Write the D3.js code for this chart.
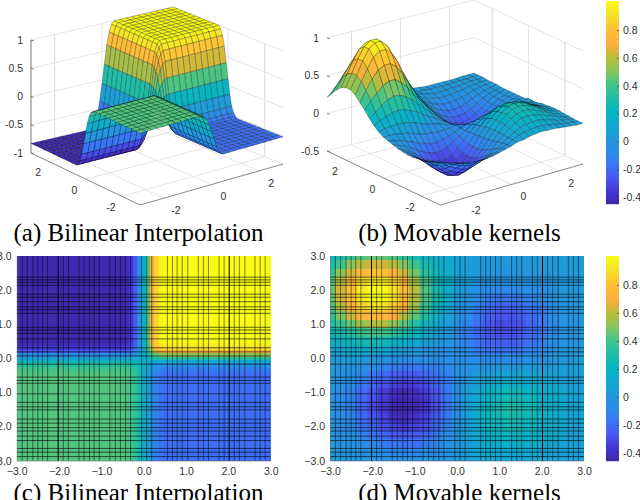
<!DOCTYPE html>
<html>
<head>
<meta charset="utf-8">
<script src="https://d3js.org/d3.v7.min.js"></script>
<style>
body { margin: 0; background: #fff; }
svg { display: block; }
text { font-family: "Liberation Sans", sans-serif; }
.caption { font-family: "Liberation Serif", serif; font-size: 25px; fill: #000; }
</style>
</head>
<body>
<div id="viz"></div>
<script>
// parula colour stops
var parulaStops = [0, .06, .125, .19, .25, .31, .38, .45, .52, .59, .66, .72, .79, .86, .93, 1];
var parulaColors = ["#3e26a8", "#4435d0", "#4a55f0", "#3a74f5", "#2a8de8", "#2496dc", "#12a8d0", "#08b4c2",
                    "#20bda6", "#45c488", "#8ac45a", "#bcbc3a", "#fcb03c", "#fcc035", "#f5e027", "#f9fb15"];

// axis tick values
var axisTicks3d = [-2, 0, 2];
var wallGrid = [-2, 2];
var zTicksA = [-1, -.5, 0, .5, 1];
var zTicksB = [-.5, 0, .5, 1];
var heatTicks = [-3, -2, -1, 0, 1, 2, 3];
var barTicks = [-.4, -.2, 0, .2, .4, .6, .8];

// positions of the black mesh lines that show in the two flat maps
var lineX = [-2.87, -2.75, -2.62, -2.5, -2.39, -2.27, -1.9, -1.78, -1.53, -1.41, -1.28, -1.17, -1.05, -.8, -.67, -.55, -.43, -.31,
             -.05, .07, .19, .56, .68, .79, .91, 1.04, 1.29, 1.41, 1.53, 1.78, 1.9, 2.14, 2.26, 2.39, 2.63, 2.75, 2.87];
var lineXBold = [-2.02, 2.02];
var lineY = [2.38, 2.3, 2.23, 2.14, 1.88, 1.79, 1.66, 1.51, 1.43, 1.32, .91, .83, .73, .57, .31, .19, .07, -.17, -.55, -.65, -.73,
             -1.04, -1.29, -1.42, -1.51, -1.78, -1.9, -2.03, -2.13, -2.28, -2.41, -2.64, -2.75, -2.88];

// bilinear surface: grid nodes (dense across the step) and height rows
var bilinearNodes = [-3, -2.75, -2.5, -2.25, -2, -1.75, -1.5, -1.25, -1, -.75, -.5, -.4, -.3, -.2, -.1, 0, .1, .2, .3, .4,
                     .5, .75, 1, 1.25, 1.5, 1.75, 2, 2.25, 2.5, 2.75, 3];
var rowTop = [-.83, -.83, -.83, -.83, -.83, -.83, -.83, -.83, -.83, -.83, -.83, -.79, -.74, -.61, -.37, -.06, .27, .6, .82, .95, 1, 1, 1, 1, 1, 1, 1, 1, 1, 1, 1];
var rowS1 = [-.8, -.8, -.8, -.8, -.8, -.8, -.8, -.8, -.8, -.8, -.8, -.77, -.71, -.59, -.36, -.07, .25, .57, .78, .9, .95, .95, .95, .95, .95, .95, .95, .95, .95, .95, .95];
var rowS2 = [-.72, -.72, -.72, -.72, -.72, -.72, -.72, -.72, -.72, -.72, -.72, -.69, -.64, -.53, -.33, -.06, .22, .5, .69, .8, .85, .85, .85, .85, .85, .85, .85, .85, .85, .85, .85];
var rowS3 = [-.59, -.59, -.59, -.59, -.59, -.59, -.59, -.59, -.59, -.59, -.59, -.56, -.53, -.44, -.28, -.06, .17, .39, .54, .63, .67, .67, .67, .67, .67, .67, .67, .67, .67, .67, .67];
var rowS4 = [-.39, -.39, -.39, -.39, -.39, -.39, -.39, -.39, -.39, -.39, -.39, -.37, -.35, -.3, -.2, -.06, .08, .22, .31, .37, .39, .39, .39, .39, .39, .39, .39, .39, .39, .39, .39];
var rowS5 = [-.19, -.19, -.19, -.19, -.19, -.19, -.19, -.19, -.19, -.19, -.19, -.18, -.17, -.15, -.11, -.06, 0, .05, .09, .11, .12, .12, .12, .12, .12, .12, .12, .12, .12, .12, .12];
var rowS6 = [0, 0, 0, 0, 0, 0, 0, 0, 0, 0, 0, 0, -.01, -.02, -.04, -.06, -.08, -.11, -.13, -.14, -.14, -.14, -.14, -.14, -.14, -.14, -.14, -.14, -.14, -.14, -.14];
var rowS7 = [.14, .14, .14, .14, .14, .14, .14, .14, .14, .14, .14, .13, .12, .08, .02, -.06, -.15, -.23, -.29, -.33, -.34, -.34, -.34, -.34, -.34, -.34, -.34, -.34, -.34, -.34, -.34];
var rowS8 = [.22, .22, .22, .22, .22, .22, .22, .22, .22, .22, .22, .21, .19, .14, .06, -.06, -.18, -.29, -.37, -.42, -.44, -.44, -.44, -.44, -.44, -.44, -.44, -.44, -.44, -.44, -.44];
var rowS9 = [.25, .25, .25, .25, .25, .25, .25, .25, .25, .25, .25, .24, .21, .16, .07, -.06, -.19, -.33, -.42, -.47, -.49, -.49, -.49, -.49, -.49, -.49, -.49, -.49, -.49, -.49, -.49];
var rowLow = [.27, .27, .27, .27, .27, .27, .27, .27, .27, .27, .27, .25, .23, .18, .07, -.06, -.2, -.35, -.44, -.5, -.52, -.52, -.52, -.52, -.52, -.52, -.52, -.52, -.52, -.52, -.52];
var bilinearRows = [rowTop, rowTop, rowTop, rowTop, rowTop, rowTop, rowTop, rowTop, rowTop, rowTop, rowTop,
                    rowS1, rowS2, rowS3, rowS4, rowS5, rowS6, rowS7, rowS8, rowS9,
                    rowLow, rowLow, rowLow, rowLow, rowLow, rowLow, rowLow, rowLow, rowLow, rowLow, rowLow];

// movable kernels surface: nodes every 0.25, heights in hundredths, y from 3 down to -3
var kernelNodes = [-3, -2.75, -2.5, -2.25, -2, -1.75, -1.5, -1.25, -1, -.75, -.5, -.25, 0, .25, .5, .75, 1, 1.25, 1.5, 1.75, 2, 2.25, 2.5, 2.75, 3];
var kernelRows = [
  [21, 29, 37, 43, 46, 46, 42, 35, 28, 20, 14, 9, 6, 5, 4, 3, 2, 2, 2, 2, 2, 2, 3, 3, 3],
  [29, 40, 51, 59, 63, 63, 58, 49, 38, 27, 19, 12, 7, 4, 2, 2, 1, 1, 1, 1, 2, 2, 2, 3, 3],
  [37, 51, 64, 75, 80, 80, 73, 62, 47, 34, 22, 14, 7, 4, 2, 0, -2, -2, -1, 0, 0, 1, 2, 2, 3],
  [43, 59, 75, 88, 94, 94, 86, 72, 55, 40, 26, 15, 7, 3, -1, -3, -5, -5, -4, -3, -2, 0, 1, 2, 2],
  [46, 63, 80, 94, 100, 100, 92, 77, 59, 42, 27, 15, 6, 0, -5, -8, -10, -10, -9, -7, -5, -2, 0, 1, 2],
  [46, 63, 80, 94, 100, 100, 92, 77, 58, 42, 27, 14, 4, -3, -9, -13, -16, -16, -15, -12, -8, -5, -2, 0, 2],
  [42, 58, 73, 86, 92, 92, 84, 71, 53, 37, 23, 11, 1, -7, -14, -19, -22, -22, -20, -17, -12, -7, -3, -1, 1],
  [35, 49, 62, 72, 76, 76, 70, 58, 44, 30, 18, 7, -2, -10, -17, -23, -27, -28, -25, -21, -15, -9, -4, -1, 1],
  [28, 38, 46, 54, 58, 58, 52, 44, 32, 23, 13, 4, -5, -13, -20, -26, -30, -30, -28, -23, -16, -10, -5, -2, 1],
  [20, 26, 33, 38, 41, 40, 36, 30, 22, 14, 7, 0, -7, -14, -21, -25, -29, -29, -26, -21, -15, -9, -4, -1, 1],
  [13, 18, 21, 24, 25, 24, 20, 17, 11, 6, 2, -3, -8, -13, -18, -23, -24, -25, -22, -19, -13, -8, -4, -1, 1],
  [8, 10, 11, 12, 11, 10, 7, 4, 1, -1, -3, -6, -8, -10, -15, -17, -19, -18, -16, -13, -9, -5, -2, 1, 1],
  [4, 4, 4, 2, 1, -2, -5, -7, -7, -9, -8, -8, -6, -8, -9, -10, -10, -9, -8, -6, -3, -1, 1, 1, 3],
  [2, 0, -2, -5, -8, -12, -14, -17, -17, -15, -13, -10, -7, -4, -3, -2, -1, -1, 1, 1, 2, 2, 3, 3, 3],
  [0, -3, -6, -11, -16, -20, -24, -26, -26, -22, -18, -13, -8, -2, 3, 5, 7, 8, 9, 8, 8, 6, 5, 5, 3],
  [-2, -6, -10, -16, -22, -28, -32, -34, -34, -30, -22, -15, -7, 1, 6, 11, 15, 16, 16, 15, 13, 10, 8, 5, 5],
  [-3, -7, -13, -20, -27, -34, -39, -42, -40, -34, -27, -17, -7, 2, 10, 17, 21, 23, 22, 19, 17, 13, 10, 7, 5],
  [-4, -8, -14, -21, -29, -36, -42, -44, -43, -37, -28, -18, -6, 4, 13, 20, 25, 27, 26, 24, 20, 15, 11, 8, 6],
  [-4, -8, -14, -21, -29, -36, -42, -44, -43, -37, -28, -18, -6, 5, 14, 21, 27, 29, 28, 25, 20, 16, 11, 8, 6],
  [-3, -7, -12, -19, -26, -33, -39, -41, -39, -33, -25, -16, -5, 5, 14, 22, 26, 28, 27, 24, 20, 15, 11, 8, 6],
  [-2, -6, -10, -16, -22, -28, -32, -34, -32, -28, -21, -13, -4, 5, 13, 19, 23, 25, 24, 21, 18, 14, 10, 7, 5],
  [-1, -4, -7, -12, -17, -21, -25, -26, -25, -22, -16, -10, -2, 5, 11, 16, 20, 21, 20, 18, 15, 12, 9, 6, 5],
  [0, -2, -4, -8, -11, -15, -17, -18, -18, -15, -11, -6, -1, 4, 9, 13, 15, 16, 16, 14, 12, 9, 7, 6, 4],
  [1, 0, -2, -4, -7, -9, -11, -11, -11, -9, -7, -3, 0, 4, 8, 10, 11, 12, 12, 10, 9, 7, 6, 5, 4],
  [2, 1, 0, -2, -3, -5, -6, -6, -6, -5, -3, -1, 1, 4, 5, 7, 8, 9, 8, 8, 7, 6, 5, 4, 4]
];

var captions = ["(a) Bilinear Interpolation", "(b) Movable kernels", "(c) Bilinear Interpolation", "(d) Movable kernels"];

var svg = d3.select("#viz").append("svg").attr("width", 640).attr("height", 500);

var parula = d3.scaleLinear().domain(parulaStops).range(parulaColors).clamp(true);

function colorScale(lo, hi) {
    var t = d3.scaleLinear().domain([lo, hi]).range([0, 1]);
    return function(v) { return parula(t(v)); };
}

var colorA = colorScale(-.85, 1);
var colorB = colorScale(-.455, 1.007);

var bilinearZ = function(i, j) { return bilinearRows[j][i]; };
var kernelZ = function(i, j) { return kernelRows[j][i] / 100; };

// one 3d panel; corners are the floor of the box in pixels, clockwise from the left one
function surface(opts) {
    var g = svg.append("g");
    var u = d3.scaleLinear().domain([-3, 3]).range([0, 1]);
    var v = d3.scaleLinear().domain([3, -3]).range([0, 1]);
    var h = d3.scaleLinear().domain(opts.zDomain).range([0, opts.height]);
    var c = opts.corners;

    function project(x, y, z) {
        var a = u(x), b = v(y);
        var px = (1-a)*(1-b)*c.left[0] + a*(1-b)*c.back[0] + (1-a)*b*c.front[0] + a*b*c.right[0];
        var py = (1-a)*(1-b)*c.left[1] + a*(1-b)*c.back[1] + (1-a)*b*c.front[1] + a*b*c.right[1];
        return [px, py - h(z)];
    }
    var line = d3.line();
    var zLo = opts.zDomain[0], zHi = opts.zDomain[1];

    function guide(points, color, width) {
        g.append("path").attr("d", line(points)).attr("fill", "none").attr("stroke", color).attr("stroke-width", width);
    }

    // back walls and floor
    var grid = "#dedede";
    opts.zTicks.forEach(function(z) {
        guide([project(-3, 3, z), project(3, 3, z), project(3, -3, z)], grid, .8);
    });
    wallGrid.forEach(function(t) {
        guide([project(t, 3, zLo), project(t, 3, zHi)], grid, .8);
        guide([project(3, t, zLo), project(3, t, zHi)], grid, .8);
    });
    axisTicks3d.forEach(function(t) {
        guide([project(t, -3, zLo), project(t, 3, zLo), project(t, 3, zHi)], grid, .8);
        guide([project(-3, t, zLo), project(3, t, zLo), project(3, t, zHi)], grid, .8);
    });

    // axes
    var axisColor = "#555";
    guide([project(-3, 3, zLo), project(-3, -3, zLo), project(3, -3, zLo)], axisColor, .7);
    if (opts.zAxisLine) guide([project(-3, 3, zLo), project(-3, 3, zHi)], axisColor, .8);

    // surface, back to front so that near parts hide far parts
    var nodes = opts.nodes, quads = [];
    for (var j = 0; j < nodes.length - 1; j++) {
        for (var i = nodes.length - 2; i >= 0; i--) {
            quads.push({i: i, j: j});
        }
    }
    g.append("g").selectAll("path").data(quads).join("path")
        .attr("d", function(d) {
            var x0 = nodes[d.i], x1 = nodes[d.i+1], y0 = nodes[nodes.length-1-d.j], y1 = nodes[nodes.length-2-d.j];
            return line([project(x0, y0, opts.z(d.i, d.j)), project(x1, y0, opts.z(d.i+1, d.j)),
                         project(x1, y1, opts.z(d.i+1, d.j+1)), project(x0, y1, opts.z(d.i, d.j+1))]) + "Z";
        })
        .attr("fill", function(d) {
            return opts.color((opts.z(d.i, d.j) + opts.z(d.i+1, d.j) + opts.z(d.i+1, d.j+1) + opts.z(d.i, d.j+1)) / 4);
        })
        .attr("stroke", "#000")
        .attr("stroke-opacity", .55)
        .attr("stroke-width", .45);

    // tick labels
    function label(x, y, s, anchor) {
        g.append("text").attr("x", x).attr("y", y).attr("dy", "0.35em").attr("text-anchor", anchor || "middle")
            .attr("font-size", 10.5).attr("fill", "#333").text(s);
    }
    opts.zTicks.forEach(function(z) {
        var p = project(-3, 3, z);
        guide([p, [p[0] + 3, p[1] + 1]], axisColor, .7);
        label(p[0] - 8, p[1], z, "end");
    });
    axisTicks3d.forEach(function(t) {
        var p = project(-3, t, zLo), q = project(t, -3, zLo);
        label(p[0] - 11, p[1] + 11, t);
        label(q[0] + 12, q[1] + 12, t);
    });
}

surface({
    corners: {left: [31, 153], back: [173, 120], right: [283, 164], front: [140, 205]},
    height: 113, zDomain: [-1, 1], zTicks: zTicksA, zAxisLine: true,
    nodes: bilinearNodes, z: bilinearZ, color: colorA
});

surface({
    corners: {left: [327, 151], back: [474, 113], right: [583, 164], front: [440, 205]},
    height: 113, zDomain: [-.5, 1], zTicks: zTicksB, zAxisLine: false,
    nodes: kernelNodes, z: kernelZ, color: colorB
});

// flat map seen from above, one cell per grid node
function heatmap(opts) {
    var g = svg.append("g");
    var x = d3.scaleLinear().domain([-3, 3]).range([opts.left, opts.left + 254]);
    var y = d3.scaleLinear().domain([-3, 3]).range([460.7, 256]);
    var nodes = opts.nodes, n = nodes.length;

    function lower(i) { return i == 0 ? nodes[0] : (nodes[i-1] + nodes[i]) / 2; }
    function upper(i) { return i == n-1 ? nodes[n-1] : (nodes[i] + nodes[i+1]) / 2; }

    var cells = [];
    for (var j = 0; j < n; j++) {
        for (var i = 0; i < n; i++) {
            cells.push({i: i, j: j});
        }
    }
    g.append("g").attr("shape-rendering", "crispEdges").selectAll("rect").data(cells).join("rect")
        .attr("x", function(d) { return x(lower(d.i)); })
        .attr("width", function(d) { return x(upper(d.i)) - x(lower(d.i)); })
        .attr("y", function(d) { return y(upper(n-1-d.j)); })
        .attr("height", function(d) { return y(lower(n-1-d.j)) - y(upper(n-1-d.j)); })
        .attr("fill", function(d) { return opts.color(opts.z(d.i, d.j)); });

    g.selectAll("line.v").data(lineX).join("line").attr("class", "v")
        .attr("x1", x).attr("x2", x).attr("y1", 256).attr("y2", 460.7)
        .attr("stroke", "#000").attr("stroke-opacity", .6).attr("stroke-width", .8);
    g.selectAll("line.b").data(lineXBold).join("line").attr("class", "b")
        .attr("x1", x).attr("x2", x).attr("y1", 256).attr("y2", 460.7)
        .attr("stroke", "#000").attr("stroke-width", 1);
    g.selectAll("line.h").data(lineY).join("line").attr("class", "h")
        .attr("y1", y).attr("y2", y).attr("x1", opts.left).attr("x2", opts.left + 254)
        .attr("stroke", "#000").attr("stroke-opacity", .75).attr("stroke-width", .8);

    var ax = g.append("g").attr("transform", "translate(0,460.7)")
        .call(d3.axisBottom(x).tickValues(heatTicks).tickSize(0).tickPadding(7));
    var ay = g.append("g").attr("transform", "translate(" + opts.left + ",0)")
        .call(d3.axisLeft(y).tickValues(heatTicks).tickSize(0).tickPadding(5));
    [ax, ay].forEach(function(a) {
        a.select(".domain").attr("stroke", "#777").attr("stroke-width", .5);
        a.selectAll("text").attr("font-size", 10.5).attr("fill", "#333").attr("font-family", null);
    });
}

heatmap({left: 16.7, nodes: bilinearNodes, z: bilinearZ, color: colorA});
heatmap({left: 330, nodes: kernelNodes, z: kernelZ, color: colorB});

// colorbars
function colorbar(y0, y1, lo, hi) {
    var g = svg.append("g");
    var y = d3.scaleLinear().domain([lo, hi]).range([y1, y0]);
    var color = colorScale(lo, hi);
    g.selectAll("rect").data(d3.range(y0, y1, 1)).join("rect")
        .attr("x", 606).attr("width", 13).attr("y", function(d) { return d; }).attr("height", 1.2)
        .attr("fill", function(d) { return color(y.invert(d + .5)); });
    var ax = g.append("g").attr("transform", "translate(619,0)")
        .call(d3.axisRight(y).tickValues(barTicks).tickSize(-2).tickPadding(4).tickFormat(function(d) { return d; }));
    ax.select(".domain").remove();
    ax.selectAll("text").attr("font-size", 10.5).attr("fill", "#333").attr("font-family", null);
    ax.selectAll("line").attr("stroke", "#333").attr("stroke-width", .6);
}

colorbar(1, 204, -.45, 1.01);
colorbar(256, 460.7, -.455, 1.007);

// captions
var captionX = [138.5, 459.5, 138.5, 459.5];
var captionY = [241, 241, 500.5, 500.5];
svg.selectAll("text.caption").data(captions).join("text").attr("class", "caption")
    .attr("text-anchor", "middle")
    .attr("x", function(d, i) { return captionX[i]; })
    .attr("y", function(d, i) { return captionY[i]; })
    .text(function(d) { return d; });
</script>
</body>
</html>
